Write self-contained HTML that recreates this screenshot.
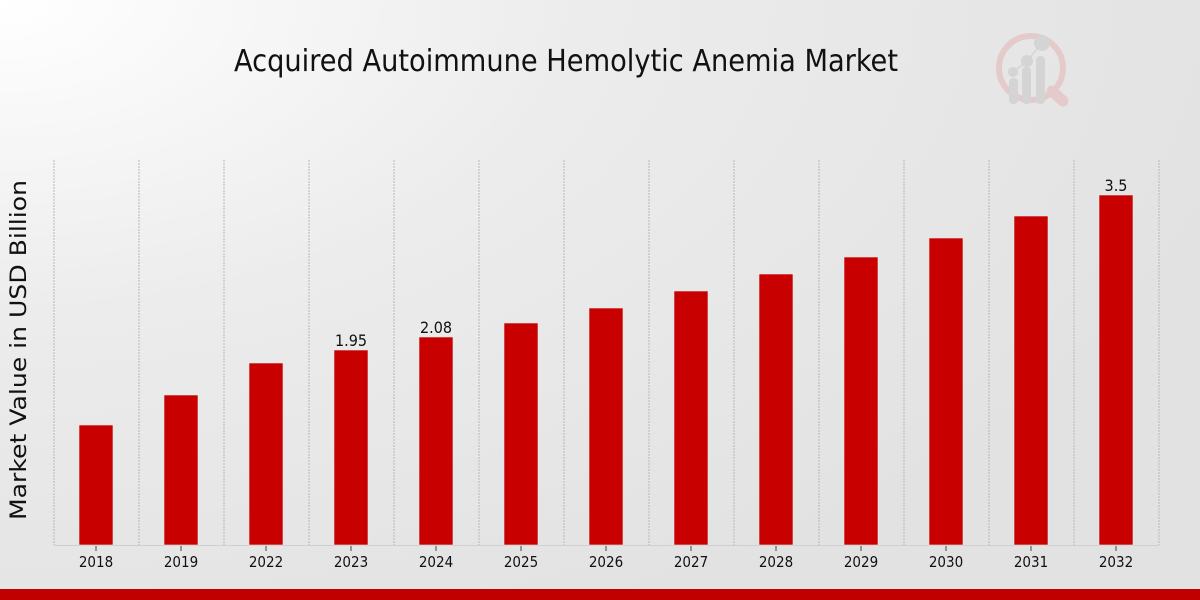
<!DOCTYPE html>
<html>
<head>
<meta charset="utf-8">
<style>
html,body{margin:0;padding:0;}
body{width:1200px;height:600px;overflow:hidden;}
svg{display:block;}
text{font-family:"DejaVu Sans","Liberation Sans",sans-serif;fill:#111;}
.c{font-stretch:condensed;}
</style>
</head>
<body>
<svg width="1200" height="600" viewBox="0 0 1200 600" xmlns="http://www.w3.org/2000/svg">
<defs>
<radialGradient id="bg" cx="0" cy="0" r="1" gradientUnits="userSpaceOnUse" gradientTransform="translate(0 0) scale(1300 700)">
<stop offset="0" stop-color="#ffffff"/>
<stop offset="0.45" stop-color="#ececec"/>
<stop offset="1" stop-color="#e2e2e2"/>
</radialGradient>
</defs>
<rect x="0" y="0" width="1200" height="600" fill="url(#bg)"/>

<!-- title -->
<text x="566" y="71" text-anchor="middle" font-size="30" textLength="664" lengthAdjust="spacingAndGlyphs" class="c">Acquired Autoimmune Hemolytic Anemia Market</text>

<!-- logo -->
<g opacity="0.85">
<circle cx="1031" cy="68" r="32" fill="none" stroke="#e5c6c8" stroke-width="6"/>
<line x1="1052" y1="91" x2="1063" y2="101" stroke="#e5c6c8" stroke-width="11" stroke-linecap="round"/>
<rect x="1009" y="78" width="9" height="26" rx="4" fill="#d2d2d2"/>
<rect x="1022" y="67" width="9" height="37" rx="4" fill="#d2d2d2"/>
<rect x="1036" y="56" width="9" height="48" rx="4" fill="#d2d2d2"/>
<circle cx="1013" cy="72" r="5" fill="#d2d2d2"/>
<circle cx="1027" cy="61" r="6" fill="#d2d2d2"/>
<circle cx="1042" cy="43" r="8" fill="#d2d2d2"/>
<polyline points="1013,72 1027,61 1042,43" fill="none" stroke="#d2d2d2" stroke-width="1.5"/>
</g>

<!-- y axis label -->
<text transform="translate(26 350) rotate(-90)" text-anchor="middle" font-size="22" textLength="340" lengthAdjust="spacingAndGlyphs" fill="#222">Market Value in USD Billion</text>

<!-- grid -->
<g stroke="#b8b8b8" stroke-width="1" stroke-dasharray="2,1">
<line x1="54" y1="160" x2="54" y2="545"/>
<line x1="139" y1="160" x2="139" y2="545"/>
<line x1="224" y1="160" x2="224" y2="545"/>
<line x1="309" y1="160" x2="309" y2="545"/>
<line x1="394" y1="160" x2="394" y2="545"/>
<line x1="479" y1="160" x2="479" y2="545"/>
<line x1="564" y1="160" x2="564" y2="545"/>
<line x1="649" y1="160" x2="649" y2="545"/>
<line x1="734" y1="160" x2="734" y2="545"/>
<line x1="819" y1="160" x2="819" y2="545"/>
<line x1="904" y1="160" x2="904" y2="545"/>
<line x1="989" y1="160" x2="989" y2="545"/>
<line x1="1074" y1="160" x2="1074" y2="545"/>
<line x1="1159" y1="160" x2="1159" y2="545"/>
</g>
<line x1="54" y1="545.5" x2="1159" y2="545.5" stroke="#cfcfcf" stroke-width="1"/>

<!-- bars -->
<g fill="#c80000" stroke="#e9e9e9" stroke-width="0.6">
<rect x="79" y="425" width="34" height="120"/>
<rect x="164" y="395" width="34" height="150"/>
<rect x="249" y="363" width="34" height="182"/>
<rect x="334" y="350" width="34" height="195"/>
<rect x="419" y="337" width="34" height="208"/>
<rect x="504" y="323" width="34" height="222"/>
<rect x="589" y="308" width="34" height="237"/>
<rect x="674" y="291" width="34" height="254"/>
<rect x="759" y="274" width="34" height="271"/>
<rect x="844" y="257" width="34" height="288"/>
<rect x="929" y="238" width="34" height="307"/>
<rect x="1014" y="216" width="34" height="329"/>
<rect x="1099" y="195" width="34" height="350"/>
</g>

<!-- value labels -->
<g font-size="16" text-anchor="middle" class="c">
<text x="351" y="346">1.95</text>
<text x="436" y="333">2.08</text>
<text x="1116" y="191">3.5</text>
</g>

<!-- ticks -->
<g stroke="#444" stroke-width="1">
<line x1="96" y1="546" x2="96" y2="551"/>
<line x1="181" y1="546" x2="181" y2="551"/>
<line x1="266" y1="546" x2="266" y2="551"/>
<line x1="351" y1="546" x2="351" y2="551"/>
<line x1="436" y1="546" x2="436" y2="551"/>
<line x1="521" y1="546" x2="521" y2="551"/>
<line x1="606" y1="546" x2="606" y2="551"/>
<line x1="691" y1="546" x2="691" y2="551"/>
<line x1="776" y1="546" x2="776" y2="551"/>
<line x1="861" y1="546" x2="861" y2="551"/>
<line x1="946" y1="546" x2="946" y2="551"/>
<line x1="1031" y1="546" x2="1031" y2="551"/>
<line x1="1116" y1="546" x2="1116" y2="551"/>
</g>

<!-- x labels -->
<g font-size="15" text-anchor="middle" class="c">
<text x="96" y="567">2018</text>
<text x="181" y="567">2019</text>
<text x="266" y="567">2022</text>
<text x="351" y="567">2023</text>
<text x="436" y="567">2024</text>
<text x="521" y="567">2025</text>
<text x="606" y="567">2026</text>
<text x="691" y="567">2027</text>
<text x="776" y="567">2028</text>
<text x="861" y="567">2029</text>
<text x="946" y="567">2030</text>
<text x="1031" y="567">2031</text>
<text x="1116" y="567">2032</text>
</g>

<!-- bottom red band -->
<rect x="0" y="589" width="1200" height="11" fill="#c00000"/>
</svg>
</body>
</html>
